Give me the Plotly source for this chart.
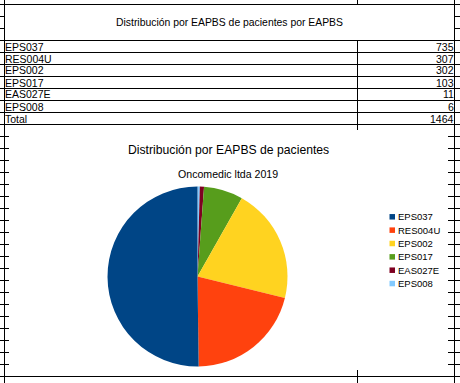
import plotly.graph_objects as go

# ---- data ----
categories = ["EPS037", "RES004U", "EPS002", "EPS017", "EAS027E", "EPS008"]
patients = [735, 307, 302, 103, 11, 6]
total_label = "Total"
total_value = 1464
colors = ["#004586", "#ff420e", "#ffd320", "#579d1c", "#7e0021", "#83caff"]
table_title = "Distribución por EAPBS de pacientes por EAPBS"
chart_title = "Distribución por EAPBS de pacientes"
chart_subtitle = "Oncomedic ltda 2019"

W, H = 460, 383
FONT = "Liberation Sans, Arial, sans-serif"


def fx(x):
    return x / W


def fy(y):
    return 1 - y / H


def line(x0, y0, x1, y1):
    return dict(type="line", xref="paper", yref="paper", layer="below",
                x0=fx(x0), y0=fy(y0), x1=fx(x1), y1=fy(y1),
                line=dict(color="#000000", width=1))


def rect(x0, y0, x1, y1, color):
    return dict(type="rect", xref="paper", yref="paper", layer="below",
                x0=fx(x0), y0=fy(y0), x1=fx(x1), y1=fy(y1),
                fillcolor=color, line=dict(width=0))


shapes = []
# spreadsheet grid
ROW0, ROWH = 4.5, 12
for k in range(32):
    y = ROW0 + ROWH * k
    shapes.append(line(0, y, W, y))
for x in (4.5, 357.5, 454.5):
    shapes.append(line(x, 0, x, H))
# merged title cell interior
shapes.append(rect(5, 5, 454, 40, "white"))
# chart object area
shapes.append(rect(9, 130, 448, 370, "white"))

annotations = []


def text(x, y, s, size, xanchor="center", color="#000000"):
    annotations.append(dict(xref="paper", yref="paper", x=fx(x), y=fy(y), text=s,
                            showarrow=False, xanchor=xanchor, yanchor="middle",
                            borderpad=0, borderwidth=0,
                            font=dict(family=FONT, size=size, color=color)))


text(229.5, 22.8, table_title, 10.4)
rows = list(zip(categories, patients)) + [(total_label, total_value)]
for i, (lab, val) in enumerate(rows):
    yc = 40.5 + ROWH * i + 6
    text(5, yc, lab, 10.5, "left")
    text(453.8, yc, str(val), 10.5, "right")

# chart titles
text(228.5, 150, chart_title, 12.2)
text(228, 174, chart_subtitle, 10.6)

# legend
LEG_Y0, LEG_DY = 216.8, 13.35
for i, (lab, col) in enumerate(zip(categories, colors)):
    yc = LEG_Y0 + LEG_DY * i
    shapes.append(rect(389.5, yc - 2.75, 395, yc + 2.75, col))
    text(398, yc, lab, 9.5, "left")

# pie: centre (197.5, 276.5), radius 90
# slices run counter-clockwise from 12 o'clock in the reference, i.e. clockwise
# in reversed order
cx, cy, r = 197.5, 276.5, 90
fig = go.Figure(go.Pie(
    labels=categories[::-1], values=patients[::-1], sort=False,
    direction="clockwise", rotation=0,
    marker=dict(colors=colors[::-1], line=dict(width=0)),
    textinfo="none", hoverinfo="label+value+percent", showlegend=False,
    domain=dict(x=[fx(cx - r), fx(cx + r)], y=[fy(cy + r), fy(cy - r)]),
))

fig.update_layout(
    width=W, height=H, margin=dict(l=0, r=0, t=0, b=0, pad=0),
    paper_bgcolor="white", plot_bgcolor="white",
    shapes=shapes, annotations=annotations, showlegend=False,
)
fig.write_html("out.html", config={"displayModeBar": False},
               post_script="document.body.style.margin='0px';document.body.style.padding='0px';")
